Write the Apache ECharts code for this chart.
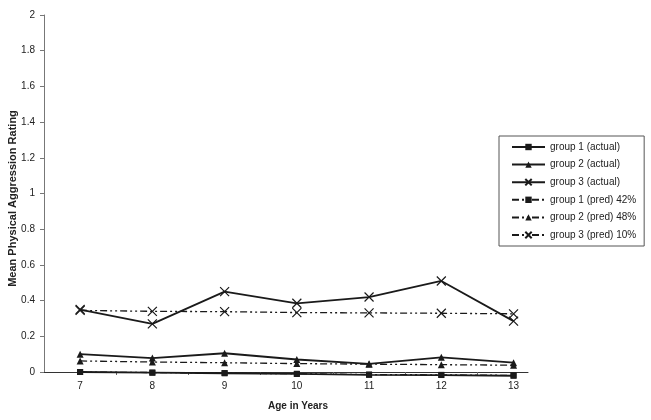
<!DOCTYPE html>
<html lang="en">
<head>
    <meta charset="UTF-8">
    <title>Mean Physical Aggression Rating</title>
    <script type="text/javascript" src="https://cdn.jsdelivr.net/npm/echarts@6/dist/echarts.min.js"></script>
    <style type="text/css">
        body{ margin: 0; background: #fff; }
        #chart{ width: 651px; height: 420px; }
    </style>
</head>
<body>
<div id="chart"></div>
<script type="text/javascript">
    // ages on the x axis
    var ages = [7, 8, 9, 10, 11, 12, 13];
    var yTicks = [0, 0.2, 0.4, 0.6, 0.8, 1, 1.2, 1.4, 1.6, 1.8, 2];

    var g1Actual = [0.0, -0.004, -0.007, -0.011, -0.016, -0.017, -0.021];
    var g2Actual = [0.10, 0.078, 0.105, 0.07, 0.046, 0.082, 0.052];
    var g3Actual = [0.35, 0.27, 0.45, 0.385, 0.42, 0.51, 0.285];
    var g1Pred = [0.0, -0.003, -0.006, -0.010, -0.014, -0.016, -0.019];
    var g2Pred = [0.062, 0.056, 0.052, 0.047, 0.044, 0.041, 0.038];
    var g3Pred = [0.345, 0.34, 0.338, 0.333, 0.331, 0.329, 0.326];

    var names = ['group 1 (actual)', 'group 2 (actual)', 'group 3 (actual)',
                 'group 1 (pred) 42%', 'group 2 (pred) 48%', 'group 3 (pred) 10%'];

    var cross = 'path://M0,0L10,10M10,0L0,10';
    var dashDot = [7, 3, 2, 3, 2, 3];

    function pairs(vals){
        var out = [];
        for (var i = 0; i < ages.length; i++) {
            out.push([ages[i], vals[i]]);
        }
        return out;
    }

    function makeSeries(name, vals, symbol, size, dashed){
        var isCross = symbol === cross;
        return {
            name: name,
            type: 'line',
            data: pairs(vals),
            clip: false,
            symbol: symbol,
            symbolSize: size,
            lineStyle: { color: '#1a1a1a', width: dashed ? 1.3 : 1.8, type: dashed ? dashDot : 'solid' },
            itemStyle: isCross
                ? { color: 'rgba(0,0,0,0)', borderColor: '#1a1a1a', borderWidth: 1.2 }
                : { color: '#1a1a1a', borderColor: '#1a1a1a', borderWidth: 0 },
            emphasis: { disabled: true },
            z: dashed ? 2 : 3
        };
    }

    var chart = echarts.init(document.getElementById('chart'));
    var font = 'Liberation Sans, Arial, sans-serif';

    var options = {
        animation: false,
        textStyle: { fontFamily: font },
        grid: { left: 44, right: 123, top: 15, bottom: 48, outerBoundsMode: 'none', containLabel: false },
        legend: {
            data: names,
            orient: 'vertical',
            left: 499,
            top: 136,
            itemWidth: 33,
            itemHeight: 8,
            itemGap: 7.6,
            padding: [6, 8, 6, 12],
            borderColor: '#555',
            borderWidth: 1,
            textStyle: { fontSize: 10, color: '#222', fontFamily: font }
        },
        xAxis: {
            type: 'value',
            min: 6.5,
            max: 13.2,
            name: 'Age in Years',
            nameLocation: 'middle',
            nameGap: 29,
            nameMoveOverlap: false,
            nameTextStyle: { fontSize: 10, fontWeight: 'bold', color: '#222', padding: [0, 0, 0, 24] },
            splitLine: { show: false },
            axisLine: { lineStyle: { color: '#333', width: 1 } },
            axisTick: { show: true, customValues: [7.5, 8.5, 9.5, 10.5, 11.5, 12.5], length: 3, lineStyle: { color: '#666' } },
            axisLabel: { customValues: ages, fontSize: 10, color: '#222', margin: 9 }
        },
        yAxis: {
            type: 'value',
            min: 0,
            max: 2,
            interval: 0.2,
            name: 'Mean Physical Aggression Rating',
            nameLocation: 'middle',
            nameGap: 26,
            nameMoveOverlap: false,
            nameTextStyle: { fontSize: 11, fontWeight: 'bold', color: '#222', padding: [0, 10, 0, 0] },
            splitLine: { show: false },
            axisLine: { show: true, lineStyle: { color: '#777', width: 1 } },
            axisTick: { show: true, length: 4, lineStyle: { color: '#777' } },
            axisLabel: {
                fontSize: 10, color: '#222', margin: 9,
                formatter: function (v) { return yTicks.indexOf(Math.round(v * 10) / 10) >= 0 ? String(Math.round(v * 10) / 10) : ''; }
            }
        },
        series: [
            makeSeries(names[0], g1Actual, 'rect', 6, false),
            makeSeries(names[1], g2Actual, 'triangle', 7, false),
            makeSeries(names[2], g3Actual, cross, 9, false),
            makeSeries(names[3], g1Pred, 'rect', 6, true),
            makeSeries(names[4], g2Pred, 'triangle', 7, true),
            makeSeries(names[5], g3Pred, cross, 9, true)
        ]
    };
    chart.setOption(options);
</script>
</body>
</html>
